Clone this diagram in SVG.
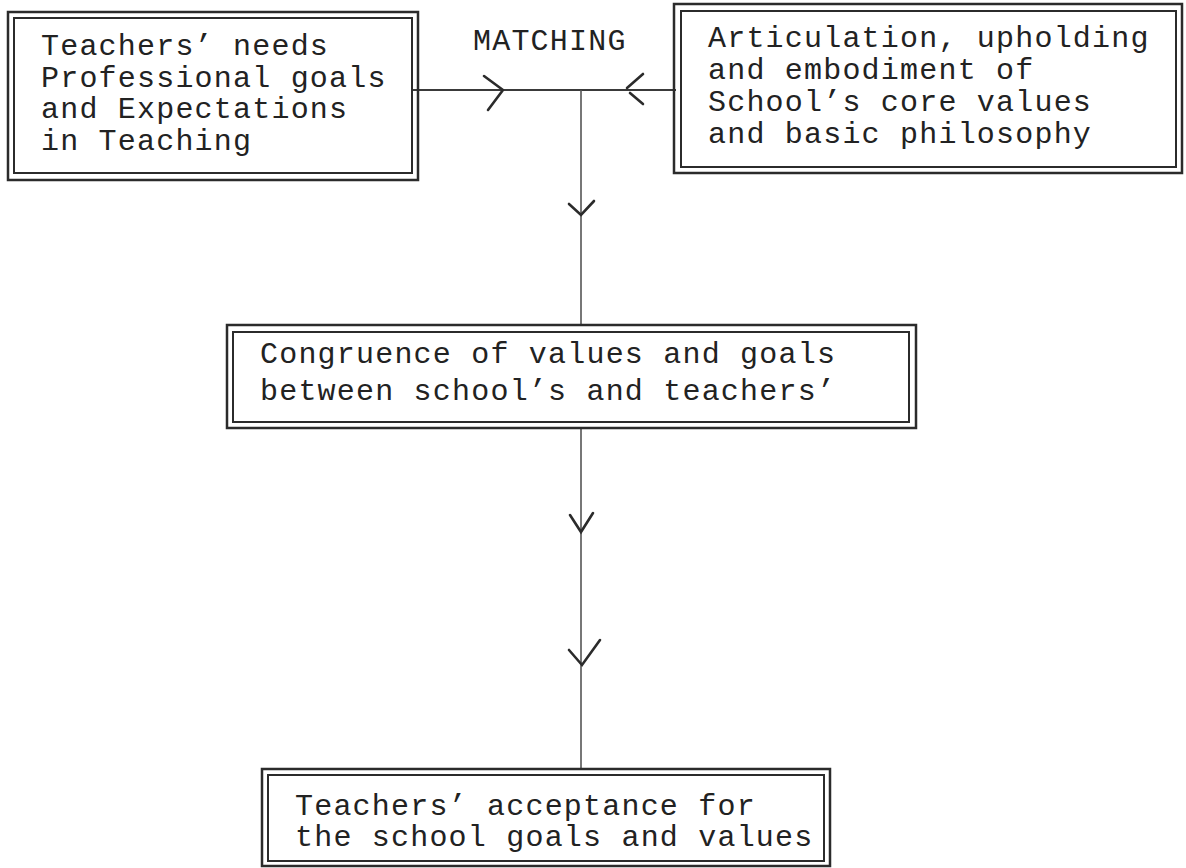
<svg xmlns="http://www.w3.org/2000/svg" width="1186" height="868" viewBox="0 0 1186 868">
<style>
.o{fill:none;stroke:#2b2b2b;stroke-width:2.5}
.i{fill:none;stroke:#2b2b2b;stroke-width:2}
.t{font-family:"Liberation Mono","DejaVu Sans Mono",monospace;font-size:30px;letter-spacing:1.2px;fill:#222}
.c{fill:none;stroke:#3a3a3a;stroke-width:2}
.v{fill:none;stroke:#555;stroke-width:1.6}
.a{fill:none;stroke:#2b2b2b;stroke-width:2.6;stroke-linecap:round}
</style>
<rect width="1186" height="868" fill="#fff"/>
<g id="connectors">
<line class="c" x1="413" y1="90" x2="676" y2="90"/>
<path class="a" d="M484 76 L503 90 M503 90 L488 110"/>
<path class="a" d="M643 74 L627 88 M630 93 L643 104"/>
<line class="v" x1="581" y1="90" x2="581" y2="326"/>
<path class="a" d="M569 204 L581 215 L594 201"/>
<line class="v" x1="581" y1="428" x2="581" y2="770"/>
<path class="a" d="M570 515 L581 532 L593 513"/>
<path class="a" d="M569 650 L582 665 L600 640"/>
<text class="t" x="473" y="50">MATCHING</text>
</g>
<g id="node-teachers-needs">
<rect class="o" x="8" y="12" width="410" height="168"/>
<rect class="i" x="14" y="18" width="398" height="155"/>
<text class="t" x="41" y="55">Teachers’ needs</text>
<text class="t" x="41" y="87">Professional goals</text>
<text class="t" x="41" y="118">and Expectations</text>
<text class="t" x="41" y="150">in Teaching</text>
</g>
<g id="node-school-values">
<rect class="o" x="674" y="4" width="508" height="169"/>
<rect class="i" x="681" y="11" width="495" height="156"/>
<text class="t" x="708" y="47">Articulation, upholding</text>
<text class="t" x="708" y="79">and embodiment of</text>
<text class="t" x="708" y="111">School’s core values</text>
<text class="t" x="708" y="143">and basic philosophy</text>
</g>
<g id="node-congruence">
<rect class="o" x="227" y="325" width="689" height="103"/>
<rect class="i" x="233" y="332" width="676" height="90"/>
<text class="t" x="260" y="363">Congruence of values and goals</text>
<text class="t" x="260" y="400">between school’s and teachers’</text>
</g>
<g id="node-acceptance">
<rect class="o" x="262" y="769" width="568" height="97"/>
<rect class="i" x="268" y="775" width="556" height="86"/>
<text class="t" x="295" y="815">Teachers’ acceptance for</text>
<text class="t" x="295" y="846">the school goals and values</text>
</g>
</svg>
